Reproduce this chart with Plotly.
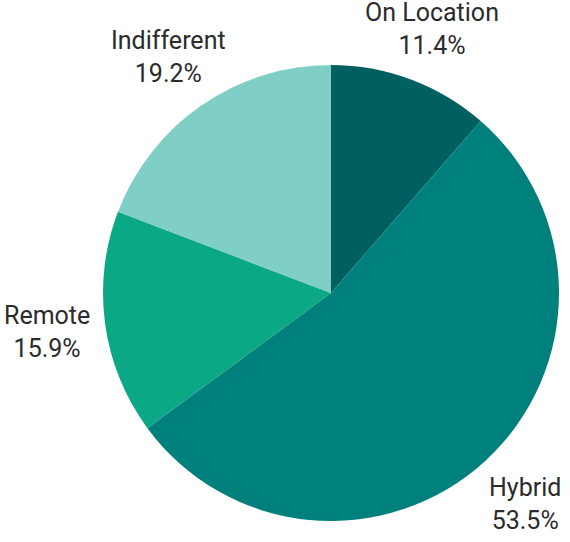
import math
import plotly.graph_objects as go

labels = ["On Location", "Hybrid", "Remote", "Indifferent"]
values = [11.4, 53.5, 15.9, 19.2]
colors = ["#005f5f", "#00807c", "#0aa884", "#80cfc6"]

W, H = 570, 542
CX, CY, R = 331, 293, 228  # pie centre / radius in pixels
LR = 287                   # label radius (horizontal / lower labels)
LR_TOP = 247               # radius of the bottom edge of upper labels

fig = go.Figure(go.Pie(
    labels=labels,
    values=values,
    sort=False,
    direction="clockwise",
    rotation=0,
    marker=dict(colors=colors, line=dict(width=0)),
    textinfo="none",
    showlegend=False,
    hoverinfo="label+percent",
    domain=dict(x=[(CX - R) / W, (CX + R) / W],
                y=[(H - (CY + R)) / H, (H - (CY - R)) / H]),
))

total = sum(values)
cum = 0.0
annotations = []
for lab, v in zip(labels, values):
    mid = (cum + v / 2) / total * 2 * math.pi
    cum += v
    px = CX + LR * math.sin(mid)
    if math.cos(mid) > 0.5:
        py = CY - LR_TOP * math.cos(mid)
        yanchor = "bottom"
    else:
        py = CY - LR * math.cos(mid)
        yanchor = "middle"
    annotations.append(dict(
        x=px / W, y=1 - py / H, xref="paper", yref="paper",
        text=f"{lab}<br>{v:.1f}%", showarrow=False,
        xanchor="center", yanchor=yanchor, align="center",
        font=dict(family="Roboto", size=25, color="#2b2b2b"),
    ))

fig.update_layout(
    width=W, height=H,
    margin=dict(l=0, r=0, t=0, b=0),
    paper_bgcolor="white",
    plot_bgcolor="white",
    annotations=annotations,
)
fig.write_html(
    "out.html",
    config={"displayModeBar": False},
    post_script="document.body.style.margin='0';document.body.style.overflow='hidden';",
)
